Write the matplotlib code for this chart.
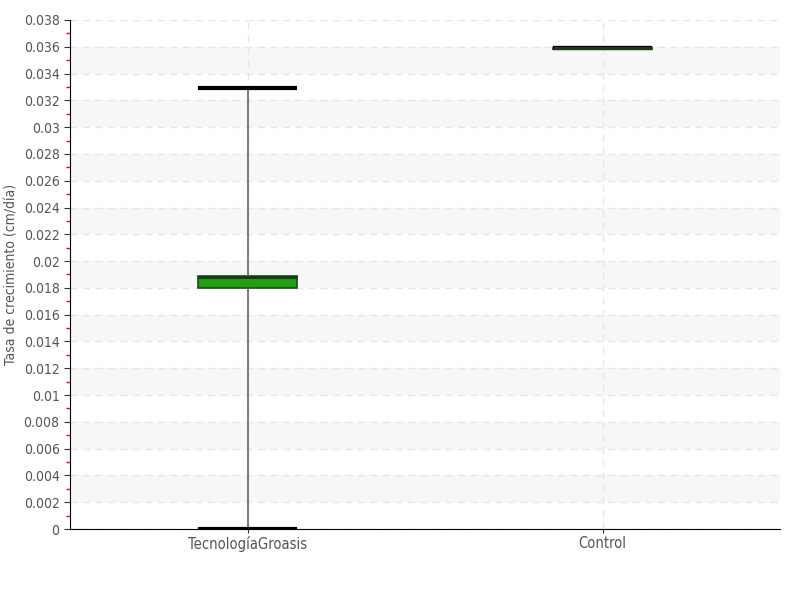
import matplotlib
matplotlib.use("Agg")
import matplotlib.pyplot as plt
from matplotlib import font_manager as fm
import numpy as np

categories = ["TecnologíaGroasis", "Control"]
whislo = [0.0, 0.0359]
q1 = [0.0180, 0.03585]
med = [0.01885, 0.0359]
q3 = [0.0189, 0.0359]
whishi = [0.0329, 0.0359]

names = {f.name for f in fm.fontManager.ttflist}
fam = [f for f in ["Liberation Sans Narrow", "DejaVu Sans"] if f in names]
plt.rcParams['font.family'] = fam
plt.rcParams['font.stretch'] = 'condensed'

fig = plt.figure(figsize=(8, 6), dpi=100)
ax = fig.add_axes([0.0875, 0.1183, 0.8875, 0.8484])

ymax = 0.038
for lo in np.arange(0.002, ymax, 0.004):
    ax.axhspan(lo, lo + 0.002, color="#f7f7f7", zorder=0, lw=0)

stats = []
for i in range(len(categories)):
    stats.append(dict(whislo=whislo[i], q1=q1[i], med=med[i], q3=q3[i],
                      whishi=whishi[i], fliers=[], label=categories[i]))
ax.bxp(stats, positions=range(len(categories)), widths=0.28, patch_artist=True,
       showfliers=False,
       boxprops=dict(facecolor="#22a012", edgecolor="#1c4a16", linewidth=1.2),
       medianprops=dict(color="#1c3a16", linewidth=2.2),
       whiskerprops=dict(color="#666666", linewidth=1.2),
       capprops=dict(color="#000000", linewidth=3),
       capwidths=0.27, zorder=3)

ax.set_xlim(-0.5, 1.5)
ax.set_ylim(0, ymax)
ticks = np.round(np.arange(0, ymax + 1e-9, 0.002), 3)
ax.set_yticks(ticks)
ax.set_yticklabels([("%g" % t) for t in ticks])
ax.set_yticks(np.arange(0.001, ymax, 0.002), minor=True)
ax.tick_params(axis='y', which='minor', length=3, color="red", width=1)
ax.tick_params(axis='both', which='major', length=4, color="#333333",
               labelcolor="#555555", labelsize=10)
ax.set_xticks(range(len(categories)))
ax.set_xticklabels(categories)
ax.tick_params(axis='x', length=3, pad=2, labelsize=10.5)

ax.yaxis.grid(True, linestyle=(0, (5, 4)), color="#e6e6e6", lw=1, zorder=1)
ax.xaxis.grid(True, linestyle=(0, (5, 4)), color="#e6e6e6", lw=1, zorder=1)
ax.set_axisbelow(True)
for s in ["top", "right"]:
    ax.spines[s].set_visible(False)
ax.spines["left"].set_color("#000000")
ax.spines["bottom"].set_color("#000000")
ax.set_ylabel("Tasa de crecimiento (cm/día)", color="#555555", fontsize=10)
ax.yaxis.set_label_coords(-0.072, 0.5)

fig.savefig("out.png", dpi=100)
